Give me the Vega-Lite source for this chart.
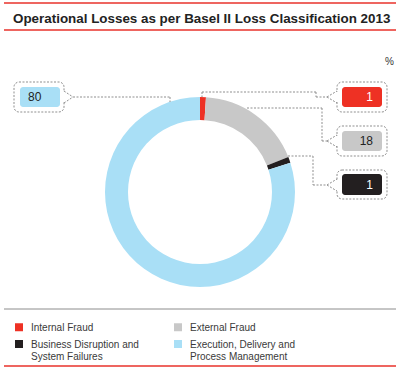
{
  "$schema": "https://vega.github.io/schema/vega-lite/v6.json",
  "width": 400,
  "height": 370,
  "autosize": {"type": "fit", "contains": "padding"},
  "padding": 0,
  "background": "#ffffff",
  "datasets": {
    "losses": [
      {"category": "Internal Fraud", "share": 1, "idx": 1},
      {"category": "External Fraud", "share": 18, "idx": 2},
      {"category": "Business Disruption and System Failures", "share": 1, "idx": 3},
      {"category": "Execution, Delivery and Process Management", "share": 80, "idx": 4}
    ]
  },
  "config": {
    "view": {"stroke": null},
    "axis": {"disable": true},
    "text": {"font": "Liberation Sans"},
    "rule": {"stroke": "#8f8f8f", "strokeDash": [2, 1.5]},
    "legend": {
      "orient": "none",
      "direction": "horizontal",
      "legendX": 14,
      "legendY": 322,
      "columns": 2,
      "padding": 0,
      "title": null,
      "symbolType": "square",
      "symbolSize": 64,
      "symbolStrokeWidth": 0,
      "labelFont": "Liberation Sans",
      "labelFontSize": 10,
      "labelColor": "#3a3a3a",
      "labelOffset": 7,
      "labelLimit": 0,
      "labelBaseline": "alphabetic",
      "columnPadding": 34,
      "rowPadding": 6
    }
  },
  "layer": [
    {
      "data": {"values": [{}]},
      "layer": [
        {"mark": {"type": "rule", "stroke": "#e8322b", "strokeWidth": 1.5, "strokeDash": []},
         "encoding": {"x": {"datum": 4, "type": "quantitative", "scale": {"domain": [0, 400], "nice": false, "zero": false}}, "x2": {"datum": 396}, "y": {"datum": 3, "type": "quantitative", "scale": {"domain": [0, 370], "nice": false, "zero": false, "reverse": true}}}},
        {"mark": {"type": "rule", "stroke": "#e8322b", "strokeWidth": 1.5, "strokeDash": []},
         "encoding": {"x": {"datum": 4}, "x2": {"datum": 396}, "y": {"datum": 30}}},
        {"mark": {"type": "rule", "stroke": "#8c8c8c", "strokeWidth": 1, "strokeDash": []},
         "encoding": {"x": {"datum": 4}, "x2": {"datum": 396}, "y": {"datum": 309}}},
        {"mark": {"type": "rule", "stroke": "#e8322b", "strokeWidth": 1.5, "strokeDash": []},
         "encoding": {"x": {"datum": 4}, "x2": {"datum": 396}, "y": {"datum": 366}}},
        {"mark": {"type": "text", "text": "Operational Losses as per Basel II Loss Classification 2013", "fontSize": 13.4, "fontWeight": "bold", "align": "left", "baseline": "alphabetic", "color": "#222222"},
         "encoding": {"x": {"datum": 13}, "y": {"datum": 22.5}}},
        {"mark": {"type": "text", "text": "%", "fontSize": 10, "align": "right", "baseline": "middle", "color": "#333333"},
         "encoding": {"x": {"datum": 394}, "y": {"datum": 62}}}
      ]
    },
    {
      "data": {"name": "losses"},
      "mark": {"type": "arc", "outerRadius": 95, "innerRadius": 72},
      "encoding": {
        "theta": {"field": "share", "type": "quantitative", "stack": true},
        "order": {"field": "idx", "type": "quantitative"},
        "x": {"datum": 200},
        "y": {"datum": 192},
        "color": {
          "field": "category",
          "type": "nominal",
          "scale": {
            "domain": ["Internal Fraud", "External Fraud", "Business Disruption and System Failures", "Execution, Delivery and Process Management"],
            "range": ["#ee3124", "#c8c8c8", "#231f20", "#a9dff6"]
          },
          "legend": {
            "labelExpr": "datum.label == 'Business Disruption and System Failures' ? ['Business Disruption and', 'System Failures'] : datum.label == 'Execution, Delivery and Process Management' ? ['Execution, Delivery and', 'Process Management'] : datum.label",
            "encode": {"labels": {"update": {"dy": {"value": 3.5}, "lineHeight": {"value": 12}}}}
          }
        }
      }
    },
    {
      "data": {"name": "losses"},
      "transform": [{"filter": "datum.idx == 4"}],
      "layer": [
        {"mark": {"type": "rule"}, "encoding": {"x": {"datum": 73}, "x2": {"datum": 170}, "y": {"datum": 97}}},
        {"mark": {"type": "rule"}, "encoding": {"x": {"datum": 170}, "y": {"datum": 97}, "y2": {"datum": 102}}},
        {"mark": {"type": "rect", "fill": "#ffffff", "stroke": "#8f8f8f", "strokeDash": [2, 1.5], "cornerRadius": 5}, "encoding": {"x": {"datum": 14}, "x2": {"datum": 64}, "y": {"datum": 82}, "y2": {"datum": 112}}},
        {"mark": {"type": "rule", "stroke": "#ffffff", "strokeWidth": 2, "strokeDash": []}, "encoding": {"x": {"datum": 64}, "y": {"datum": 92}, "y2": {"datum": 102}}},
        {"mark": {"type": "rule"}, "encoding": {"x": {"datum": 64}, "y": {"datum": 91}, "x2": {"datum": 73}, "y2": {"datum": 97}}},
        {"mark": {"type": "rule"}, "encoding": {"x": {"datum": 64}, "y": {"datum": 103}, "x2": {"datum": 73}, "y2": {"datum": 97}}},
        {"mark": {"type": "rect", "cornerRadius": 3}, "encoding": {"x": {"datum": 20}, "x2": {"datum": 60}, "y": {"datum": 87}, "y2": {"datum": 107}, "color": {"field": "category", "type": "nominal"}}},
        {"mark": {"type": "text", "align": "left", "baseline": "middle", "fontSize": 12, "color": "#222222"}, "encoding": {"text": {"field": "share", "type": "quantitative"}, "x": {"datum": 28}, "y": {"datum": 97}}}
      ]
    },
    {
      "data": {"name": "losses"},
      "transform": [{"filter": "datum.idx == 1"}],
      "layer": [
        {"mark": {"type": "rule"}, "encoding": {"x": {"datum": 202}, "y": {"datum": 92}, "y2": {"datum": 97}}},
        {"mark": {"type": "rule"}, "encoding": {"x": {"datum": 202}, "x2": {"datum": 316}, "y": {"datum": 92}}},
        {"mark": {"type": "rule"}, "encoding": {"x": {"datum": 316}, "y": {"datum": 92}, "y2": {"datum": 97}}},
        {"mark": {"type": "rule"}, "encoding": {"x": {"datum": 316}, "x2": {"datum": 327}, "y": {"datum": 97}}},
        {"mark": {"type": "rect", "fill": "#ffffff", "stroke": "#8f8f8f", "strokeDash": [2, 1.5], "cornerRadius": 5}, "encoding": {"x": {"datum": 337}, "x2": {"datum": 387}, "y": {"datum": 82}, "y2": {"datum": 112}}},
        {"mark": {"type": "rule", "stroke": "#ffffff", "strokeWidth": 2, "strokeDash": []}, "encoding": {"x": {"datum": 337}, "y": {"datum": 92}, "y2": {"datum": 102}}},
        {"mark": {"type": "rule"}, "encoding": {"x": {"datum": 327}, "y": {"datum": 97}, "x2": {"datum": 337}, "y2": {"datum": 91}}},
        {"mark": {"type": "rule"}, "encoding": {"x": {"datum": 327}, "y": {"datum": 97}, "x2": {"datum": 337}, "y2": {"datum": 103}}},
        {"mark": {"type": "rect", "cornerRadius": 3}, "encoding": {"x": {"datum": 342}, "x2": {"datum": 382}, "y": {"datum": 87}, "y2": {"datum": 107}, "color": {"field": "category", "type": "nominal"}}},
        {"mark": {"type": "text", "align": "right", "baseline": "middle", "fontSize": 12, "color": "#ffffff"}, "encoding": {"text": {"field": "share", "type": "quantitative"}, "x": {"datum": 373}, "y": {"datum": 97}}}
      ]
    },
    {
      "data": {"name": "losses"},
      "transform": [{"filter": "datum.idx == 2"}],
      "layer": [
        {"mark": {"type": "rule"}, "encoding": {"x": {"datum": 247}, "x2": {"datum": 322}, "y": {"datum": 108}}},
        {"mark": {"type": "rule"}, "encoding": {"x": {"datum": 322}, "y": {"datum": 108}, "y2": {"datum": 141}}},
        {"mark": {"type": "rule"}, "encoding": {"x": {"datum": 322}, "x2": {"datum": 327}, "y": {"datum": 141}}},
        {"mark": {"type": "rect", "fill": "#ffffff", "stroke": "#8f8f8f", "strokeDash": [2, 1.5], "cornerRadius": 5}, "encoding": {"x": {"datum": 337}, "x2": {"datum": 387}, "y": {"datum": 126}, "y2": {"datum": 156}}},
        {"mark": {"type": "rule", "stroke": "#ffffff", "strokeWidth": 2, "strokeDash": []}, "encoding": {"x": {"datum": 337}, "y": {"datum": 136}, "y2": {"datum": 146}}},
        {"mark": {"type": "rule"}, "encoding": {"x": {"datum": 327}, "y": {"datum": 141}, "x2": {"datum": 337}, "y2": {"datum": 135}}},
        {"mark": {"type": "rule"}, "encoding": {"x": {"datum": 327}, "y": {"datum": 141}, "x2": {"datum": 337}, "y2": {"datum": 147}}},
        {"mark": {"type": "rect", "cornerRadius": 3}, "encoding": {"x": {"datum": 342}, "x2": {"datum": 382}, "y": {"datum": 131}, "y2": {"datum": 151}, "color": {"field": "category", "type": "nominal"}}},
        {"mark": {"type": "text", "align": "right", "baseline": "middle", "fontSize": 12, "color": "#222222"}, "encoding": {"text": {"field": "share", "type": "quantitative"}, "x": {"datum": 373}, "y": {"datum": 141}}}
      ]
    },
    {
      "data": {"name": "losses"},
      "transform": [{"filter": "datum.idx == 3"}],
      "layer": [
        {"mark": {"type": "rule"}, "encoding": {"x": {"datum": 288}, "x2": {"datum": 313}, "y": {"datum": 156}}},
        {"mark": {"type": "rule"}, "encoding": {"x": {"datum": 313}, "y": {"datum": 156}, "y2": {"datum": 185}}},
        {"mark": {"type": "rule"}, "encoding": {"x": {"datum": 313}, "x2": {"datum": 327}, "y": {"datum": 185}}},
        {"mark": {"type": "rect", "fill": "#ffffff", "stroke": "#8f8f8f", "strokeDash": [2, 1.5], "cornerRadius": 5}, "encoding": {"x": {"datum": 337}, "x2": {"datum": 387}, "y": {"datum": 170}, "y2": {"datum": 199}}},
        {"mark": {"type": "rule", "stroke": "#ffffff", "strokeWidth": 2, "strokeDash": []}, "encoding": {"x": {"datum": 337}, "y": {"datum": 180}, "y2": {"datum": 190}}},
        {"mark": {"type": "rule"}, "encoding": {"x": {"datum": 327}, "y": {"datum": 185}, "x2": {"datum": 337}, "y2": {"datum": 179}}},
        {"mark": {"type": "rule"}, "encoding": {"x": {"datum": 327}, "y": {"datum": 185}, "x2": {"datum": 337}, "y2": {"datum": 191}}},
        {"mark": {"type": "rect", "cornerRadius": 3}, "encoding": {"x": {"datum": 342}, "x2": {"datum": 382}, "y": {"datum": 174}, "y2": {"datum": 195}, "color": {"field": "category", "type": "nominal"}}},
        {"mark": {"type": "text", "align": "right", "baseline": "middle", "fontSize": 12, "color": "#ffffff"}, "encoding": {"text": {"field": "share", "type": "quantitative"}, "x": {"datum": 373}, "y": {"datum": 185}}}
      ]
    }
  ]
}
